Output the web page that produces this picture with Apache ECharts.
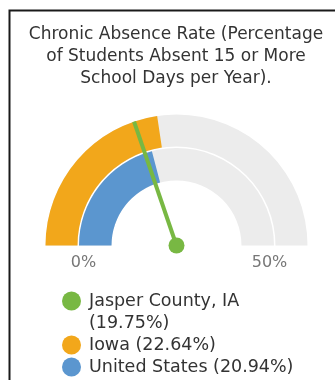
<!DOCTYPE html>
<html>
<head>
<meta charset="utf-8">
<script src="https://cdn.jsdelivr.net/npm/echarts@6/dist/echarts.min.js"></script>
<style>
html,body{margin:0;padding:0;background:#fff;}
#chart{width:335px;height:380px;}
</style>
</head>
<body>
<div id="chart"></div>
<script>
const titleText = 'Chronic Absence Rate (Percentage\nof Students Absent 15 or More\nSchool Days per Year).';
const seriesNames = ['Jasper County, IA', 'Iowa', 'United States'];
const seriesValues = [19.75, 22.64, 20.94];
const seriesColors = ['#78b843', '#f2a71b', '#5b96cf'];
const axisTicks = [0, 50];

const FONT = 'DejaVu Sans';
const chart = echarts.init(document.getElementById('chart'), null, {renderer: 'canvas'});
const center = [176.5, 245.5];

function legendLabel(name) {
  const i = seriesNames.indexOf(name);
  const v = '(' + seriesValues[i].toFixed(2) + '%)';
  // long names wrap onto a second line; a leading empty line keeps the first line level with the icon
  return name.length > 15 ? '\n' + name + '\n' + v : name + ' ' + v;
}

const hidden = {
  axisTick: {show: false},
  splitLine: {show: false, length: 0, distance: 0},
  detail: {show: false},
  title: {show: false},
  anchor: {show: false}
};

const option = {
  animation: false,
  title: {
    text: titleText,
    left: 176,
    top: 23.5,
    padding: 0,
    textAlign: 'center',
    textStyle: {fontFamily: FONT, fontSize: 17, fontWeight: 'normal', color: '#333', lineHeight: 22}
  },
  graphic: [{
    type: 'rect',
    shape: {x: 9.5, y: 10.5, width: 400, height: 400},
    style: {fill: 'none', stroke: '#1a1a1a', lineWidth: 2},
    silent: true
  }],
  legend: {
    orient: 'vertical',
    left: 62,
    top: 268,
    padding: 0,
    itemGap: 0,
    itemWidth: 25,
    itemHeight: 19,
    icon: 'circle',
    selectedMode: false,
    formatter: legendLabel,
    textStyle: {fontFamily: FONT, fontSize: 17.5, color: '#333', lineHeight: 22},
    data: seriesNames.map((n, i) => ({name: n, itemStyle: {color: seriesColors[i]}}))
  },
  series: [
    Object.assign({
      type: 'gauge',
      name: seriesNames[1],
      z: 2,
      center: center,
      radius: 131,
      startAngle: 180,
      endAngle: 0,
      min: axisTicks[0],
      max: axisTicks[1],
      splitNumber: axisTicks.length - 1,
      axisLine: {lineStyle: {width: 32, color: [[1, '#ececec']]}},
      progress: {show: true, width: 32, itemStyle: {color: seriesColors[1]}},
      pointer: {show: false},
      itemStyle: {color: seriesColors[1]},
      axisLabel: {show: false},
      data: [{value: seriesValues[1], name: seriesNames[1]}]
    }, hidden),
    Object.assign({
      type: 'gauge',
      name: seriesNames[2],
      z: 3,
      center: center,
      radius: 97.5,
      startAngle: 180,
      endAngle: 0,
      min: axisTicks[0],
      max: axisTicks[1],
      splitNumber: axisTicks.length - 1,
      axisLine: {lineStyle: {width: 32.5, color: [[1, '#ececec']]}},
      progress: {show: true, width: 32.5, itemStyle: {color: seriesColors[2]}},
      pointer: {show: false},
      itemStyle: {color: seriesColors[2]},
      axisLabel: {show: false},
      data: [{value: seriesValues[2], name: seriesNames[2]}]
    }, hidden),
    Object.assign({}, hidden, {
      type: 'gauge',
      name: seriesNames[0],
      z: 6,
      center: center,
      radius: 131,
      startAngle: 180,
      endAngle: 0,
      min: axisTicks[0],
      max: axisTicks[1],
      splitNumber: axisTicks.length - 1,
      axisLine: {show: false, lineStyle: {width: 0}},
      progress: {show: false},
      pointer: {show: true, icon: 'rect', length: 131, width: 4, offsetCenter: [0, 0], itemStyle: {color: seriesColors[0]}},
      anchor: {show: true, showAbove: true, size: 16, itemStyle: {color: seriesColors[0]}},
      itemStyle: {color: seriesColors[0]},
      axisLabel: {
        show: true, distance: 18, formatter: '{a|{value}%}',
        rich: {a: {fontFamily: FONT, fontSize: 16, color: '#777', width: 40, align: 'center', padding: [35, 0, 0, 0]}}
      },
      data: [{value: seriesValues[0], name: seriesNames[0]}]
    })
  ]
};
chart.setOption(option);
</script>
</body>
</html>
